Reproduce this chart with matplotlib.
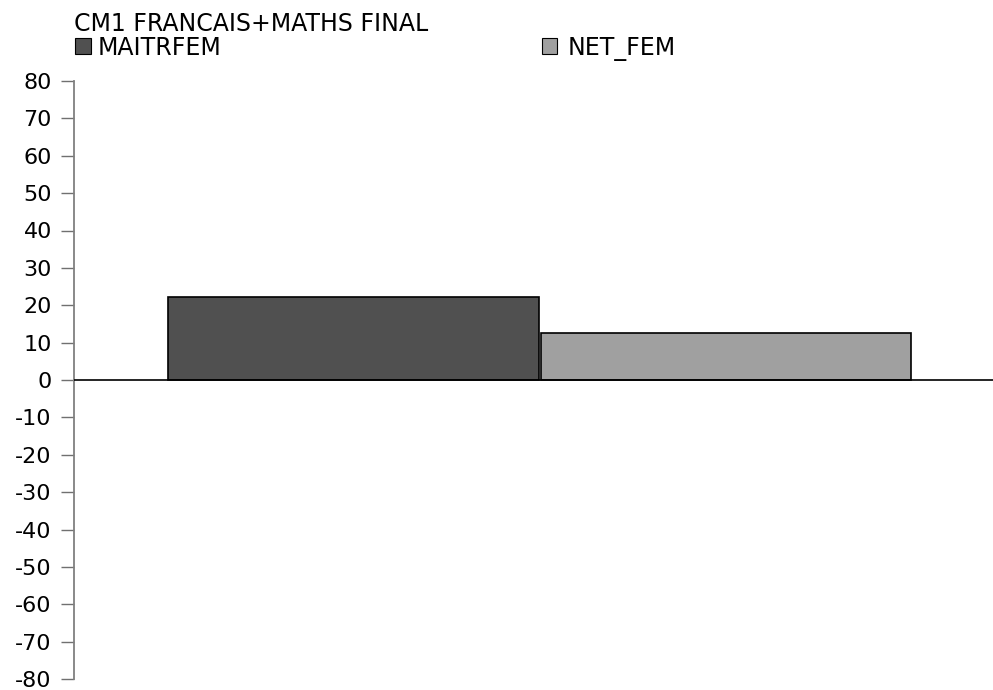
import matplotlib
matplotlib.use("Agg")
import matplotlib.pyplot as plt
from matplotlib.patches import Rectangle

title = "CM1 FRANCAIS+MATHS FINAL"
series_names = ["MAITRFEM", "NET_FEM"]
values = [22.2, 12.6]
colors = ["#505050", "#a0a0a0"]
yticks = list(range(-80, 81, 10))

plt.rcParams['font.family'] = ['DejaVu Sans']

W, H = 993, 690
fig = plt.figure(figsize=(W / 100, H / 100), dpi=100)
ax_left, ax_top, ax_bottom = 73.5, 81, 679
ax = fig.add_axes([ax_left / W, 1 - ax_bottom / H, 1 - ax_left / W, (ax_bottom - ax_top) / H])

positions = [0, 1]
ax.bar(positions, values, width=0.995, color=colors, edgecolor="black", linewidth=1.2, zorder=2)
ax.axhline(0, color="black", linewidth=1.2, zorder=3)

ax.set_xlim(-0.752, 1.717)
ax.set_ylim(-80, 80)
ax.set_yticks(yticks)
ax.set_yticklabels([str(t) for t in yticks], fontsize=16)
ax.tick_params(axis='y', direction='out', length=9.6, width=1, color="#707070", pad=6)
ax.set_xticks([])
for s in ["top", "right", "bottom"]:
    ax.spines[s].set_visible(False)
ax.spines["left"].set_color("#808080")
ax.spines["left"].set_linewidth(1.3)

fig.text(74 / W, 1 - 31 / H, title, fontsize=17, va="baseline", ha="left")
legend_sq_x = [75, 541.5]
legend_txt_x = [98, 568]
for name, c, sx, tx in zip(series_names, colors, legend_sq_x, legend_txt_x):
    fig.patches.append(Rectangle((sx / W, 1 - 54 / H), 15.5 / W, 16 / H,
                                 transform=fig.transFigure, facecolor=c,
                                 edgecolor="black", linewidth=0.8))
    fig.text(tx / W, 1 - 55 / H, name, fontsize=17, va="baseline", ha="left")

fig.savefig("out.png", dpi=100)
